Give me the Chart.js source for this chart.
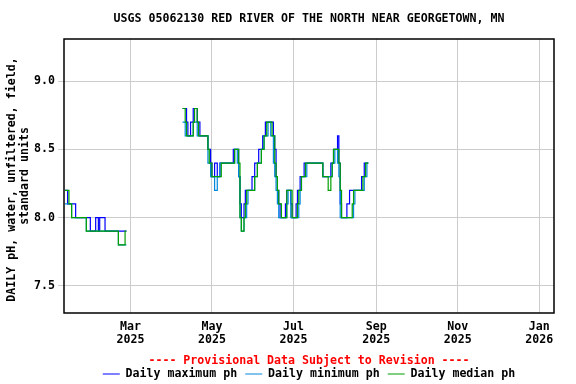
<!DOCTYPE html>
<html><head><meta charset="utf-8">
<script src="https://cdn.jsdelivr.net/npm/chart.js@4.4.1/dist/chart.umd.min.js"></script>
<style>html,body{margin:0;padding:0;background:#fff}canvas{display:block}</style>
</head><body>
<canvas id="c" width="576" height="384" style="width:576px;height:384px"></canvas>
<script>
const titleText = "USGS 05062130 RED RIVER OF THE NORTH NEAR GEORGETOWN, MN";
const yAxisTitle = ["DAILY pH, water, unfiltered, field, ", "standard units"];
const provisionalText = "---- Provisional Data Subject to Revision ----";
const seriesNames = ["Daily maximum ph", "Daily minimum ph", "Daily median ph"];
const seriesColors = ["#0000ff", "#0088dd", "#00a000"];
const xTickDates = ["2025-03-01", "2025-05-01", "2025-07-01", "2025-09-01", "2025-11-01", "2026-01-01"];
const xTickLabels = [["Mar","2025"],["May","2025"],["Jul","2025"],["Sep","2025"],["Nov","2025"],["Jan","2026"]];
const yTicks = [7.5, 8.0, 8.5, 9.0];
const xRangeDates = ["2025-01-10T07:00", "2026-01-12"];
const yRange = [7.3, 9.31];

// Segment A: consecutive daily values starting segAStart
const segAStart = "2025-01-11";
const maxA = [8.2,8.2,8.1,8.1,8.1,8.1,8.1,8.1,
  8.0,8.0,8.0,8.0,8.0,8.0,8.0,8.0,8.0,8.0,8.0,
  7.9,7.9,7.9,7.9,8.0,8.0,7.9,8.0,8.0,8.0,8.0,
  7.9,7.9,7.9,7.9,7.9,7.9,7.9,7.9,7.9,7.9,7.9,7.9,7.9,7.9,7.9,7.9,7.9];
const minA = [8.1,8.1,8.1,8.1,8.1,
  8.0,8.0,8.0,8.0,8.0,8.0,8.0,8.0,8.0,8.0,8.0,
  7.9,7.9,7.9,7.9,7.9,7.9,7.9,7.9,7.9,7.9,7.9,7.9,7.9,7.9,7.9,7.9,7.9,7.9,7.9,7.9,7.9,7.9,7.9,7.9,
  7.8,7.8,7.8,7.8,7.8,7.8,7.8];
const medA = [8.2,8.2,8.2,8.1,8.1,8.0,
  8.0,8.0,8.0,8.0,8.0,8.0,8.0,8.0,8.0,8.0,
  7.9,7.9,7.9,7.9,7.9,7.9,7.9,7.9,7.9,7.9,7.9,7.9,7.9,7.9,7.9,7.9,7.9,7.9,7.9,7.9,7.9,7.9,7.9,7.9,
  7.8,7.8,7.8,7.8,7.8,7.9,7.9];

// Segment B: consecutive daily values starting segBStart
const segBStart = "2025-04-09";
const maxB = [
  8.8,8.8,8.8,8.7,8.6,8.6,8.7,8.7,8.8,8.8,
  8.8,8.7,8.7,8.6,8.6,8.6,8.6,8.6,8.6,8.5,
  8.5,8.4,8.3,8.3,8.4,8.4,8.3,8.3,8.4,8.4,
  8.4,8.4,8.4,8.4,8.4,8.4,8.4,8.4,8.5,8.5,
  8.5,8.5,8.3,8.1,8.0,8.0,8.1,8.2,8.2,8.2,
  8.2,8.2,8.3,8.3,8.4,8.4,8.4,8.5,8.5,8.5,
  8.6,8.6,8.7,8.7,8.7,8.7,8.7,8.7,8.6,8.5,
  8.3,8.2,8.1,8.0,8.0,8.0,8.0,8.1,8.2,8.2,
  8.2,8.1,8.0,8.0,8.0,8.1,8.2,8.2,8.3,8.3,
  8.3,8.4,8.4,8.4,8.4,8.4,8.4,8.4,8.4,8.4,
  8.4,8.4,8.4,8.4,8.4,8.3,8.3,8.3,8.3,8.3,
  8.3,8.4,8.4,8.5,8.5,8.5,8.6,8.4,8.1,8.0,
  8.0,8.0,8.0,8.1,8.1,8.2,8.2,8.2,8.2,8.2,
  8.2,8.2,8.2,8.2,8.3,8.3,8.4,8.4,8.4,8.4];
const minB = [
  8.7,8.7,8.6,8.6,8.6,8.6,8.6,8.6,8.7,8.7,
  8.7,8.6,8.6,8.6,8.6,8.6,8.6,8.6,8.6,8.4,
  8.4,8.3,8.3,8.3,8.2,8.2,8.3,8.3,8.4,8.4,
  8.4,8.4,8.4,8.4,8.4,8.4,8.4,8.4,8.4,8.5,
  8.5,8.4,8.3,8.0,7.9,7.9,8.0,8.0,8.1,8.2,
  8.2,8.2,8.2,8.2,8.3,8.3,8.4,8.4,8.4,8.5,
  8.5,8.6,8.6,8.6,8.7,8.7,8.6,8.6,8.4,8.3,
  8.2,8.1,8.0,8.0,8.0,8.0,8.0,8.0,8.1,8.2,
  8.2,8.0,8.0,8.0,8.0,8.0,8.0,8.1,8.2,8.3,
  8.3,8.3,8.3,8.4,8.4,8.4,8.4,8.4,8.4,8.4,
  8.4,8.4,8.4,8.4,8.4,8.3,8.3,8.3,8.3,8.3,
  8.3,8.3,8.4,8.4,8.5,8.5,8.4,8.3,8.0,8.0,
  8.0,8.0,8.0,8.0,8.0,8.0,8.0,8.0,8.1,8.2,
  8.2,8.2,8.2,8.2,8.2,8.2,8.3,8.3,8.4,8.4];
const medB = [
  8.8,8.8,8.7,8.6,8.6,8.6,8.6,8.6,8.7,8.8,
  8.8,8.7,8.6,8.6,8.6,8.6,8.6,8.6,8.6,8.5,
  8.4,8.4,8.3,8.3,8.3,8.3,8.3,8.3,8.3,8.4,
  8.4,8.4,8.4,8.4,8.4,8.4,8.4,8.4,8.4,8.5,
  8.5,8.5,8.4,8.0,7.9,7.9,8.0,8.1,8.2,8.2,
  8.2,8.2,8.2,8.2,8.3,8.3,8.4,8.4,8.4,8.5,
  8.5,8.6,8.6,8.7,8.7,8.7,8.7,8.6,8.6,8.4,
  8.3,8.2,8.1,8.1,8.0,8.0,8.0,8.0,8.2,8.2,
  8.2,8.2,8.0,8.0,8.0,8.0,8.1,8.2,8.2,8.3,
  8.3,8.3,8.4,8.4,8.4,8.4,8.4,8.4,8.4,8.4,
  8.4,8.4,8.4,8.4,8.4,8.3,8.3,8.3,8.3,8.2,
  8.2,8.3,8.4,8.5,8.5,8.5,8.5,8.4,8.2,8.0,
  8.0,8.0,8.0,8.0,8.0,8.0,8.0,8.1,8.2,8.2,
  8.2,8.2,8.2,8.2,8.2,8.3,8.3,8.4,8.4,8.4];

// ---- helpers: calendar day number (days since 2025-01-01) ----
const DAY = 86400000;
const EPOCH = Date.parse("2025-01-01T00:00:00Z");
function dayNum(s) { return (Date.parse(s.length > 10 ? s + ":00Z" : s + "T00:00:00Z") - EPOCH) / DAY; }

function buildPoints(segments) {
  const pts = [];
  segments.forEach((seg, si) => {
    const d0 = dayNum(seg.start);
    if (si > 0) pts.push({x: d0 - 0.5, y: null});
    seg.values.forEach((v, i) => pts.push({x: d0 + i, y: v}));
  });
  return pts;
}

const FONT = "'DejaVu Sans Mono', 'Liberation Mono', monospace";
Chart.defaults.font.family = FONT;
Chart.defaults.font.size = 11.6;
Chart.defaults.font.weight = 'bold';
Chart.defaults.color = '#000';

const frame = {
  id: 'frame',
  afterDatasetsDraw(chart) {
    const a = chart.chartArea, ctx = chart.ctx;
    ctx.save();
    ctx.strokeStyle = '#000';
    ctx.lineWidth = 1.5;
    ctx.strokeRect(a.left, a.top, a.right - a.left, a.bottom - a.top);
    ctx.restore();
  }
};

const seriesData = [
  [{start: segAStart, values: maxA}, {start: segBStart, values: maxB}],
  [{start: segAStart, values: minA}, {start: segBStart, values: minB}],
  [{start: segAStart, values: medA}, {start: segBStart, values: medB}]
];

const datasets = seriesNames.map((name, i) => ({
  label: name,
  data: buildPoints(seriesData[i]),
  borderColor: seriesColors[i],
  backgroundColor: seriesColors[i],
  borderWidth: 1.2,
  pointRadius: 0,
  pointStyle: 'line',
  stepped: true,
  spanGaps: false,
  fill: false,
  order: 3 - i
}));

const xTickDays = xTickDates.map(dayNum);

new Chart(document.getElementById('c'), {
  type: 'line',
  data: { datasets },
  plugins: [frame],
  options: {
    responsive: false,
    animation: false,
    devicePixelRatio: 1,
    layout: { padding: { left: 0, right: 22, top: 0, bottom: 0 } },
    scales: {
      x: {
        type: 'linear',
        min: dayNum(xRangeDates[0]),
        max: dayNum(xRangeDates[1]),
        afterBuildTicks(scale) { scale.ticks = xTickDays.map(v => ({ value: v })); },
        afterFit(scale) { scale.height = 33.5; },
        ticks: {
          autoSkip: false, maxRotation: 0, padding: 7.5,
          font: { size: 11.6, weight: 'bold', lineHeight: '13px' },
          callback: (v, i) => xTickLabels[i]
        },
        grid: { color: '#cccccc', lineWidth: 1, drawTicks: false },
        border: { display: false }
      },
      y: {
        type: 'linear',
        min: yRange[0],
        max: yRange[1],
        afterBuildTicks(scale) { scale.ticks = yTicks.map(v => ({ value: v })); },
        afterFit(scale) { scale.width = 64; },
        ticks: {
          padding: 3,
          font: { size: 11.6, weight: 'bold' },
          callback: v => Number(v).toFixed(1)
        },
        grid: { color: '#cccccc', lineWidth: 1, drawTicks: true, tickLength: 6 },
        border: { display: false },
        title: {
          display: true,
          text: yAxisTitle,
          padding: { top: 5, bottom: 0 },
          font: { size: 11.6, weight: 'bold', lineHeight: '13.3px' }
        }
      }
    },
    plugins: {
      title: {
        display: true,
        text: titleText,
        fullSize: false,
        padding: { top: 12.04, bottom: 13.04 },
        font: { size: 11.6, weight: 'bold', lineHeight: 1.2 },
        color: '#000'
      },
      legend: {
        display: true,
        position: 'bottom',
        fullSize: false,
        align: 'center',
        maxHeight: 37.5,
        title: {
          display: true,
          text: provisionalText,
          color: '#ff0000',
          padding: { top: 8.4, bottom: 0 },
          font: { size: 11.6, weight: 'bold', lineHeight: '5.3px' }
        },
        labels: {
          usePointStyle: true,
          pointStyleWidth: 17,
          padding: 8,
          color: '#000',
          font: { size: 11.6, weight: 'bold' },
          sort: (a, b) => a.datasetIndex - b.datasetIndex
        }
      },
      tooltip: { enabled: false }
    }
  }
});
</script>
</body></html>
